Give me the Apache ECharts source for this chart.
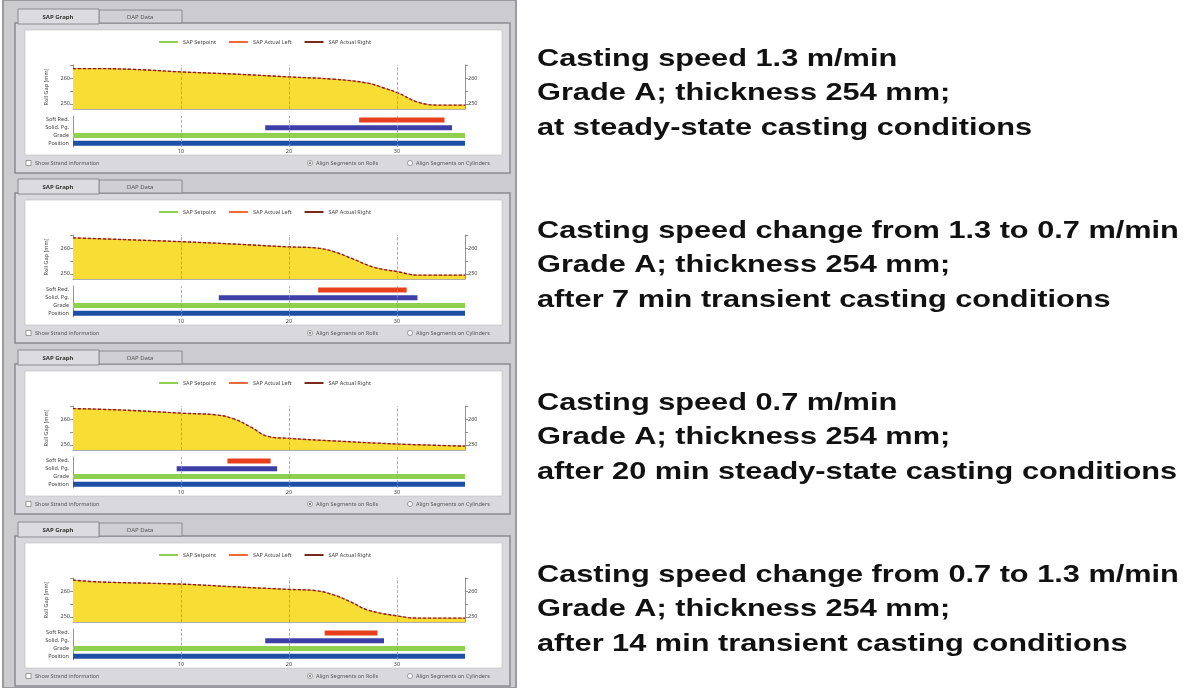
<!DOCTYPE html>
<html>
<head>
<meta charset="utf-8">
<script src="https://cdn.jsdelivr.net/npm/echarts@6/dist/echarts.min.js"></script>
<style>
  html, body { margin: 0; padding: 0; background: #ffffff; }
  #page { position: relative; width: 1187px; height: 688px; }
  #panels { position: absolute; left: 0; top: 0; width: 520px; height: 688px; filter: blur(0.6px); }
  #captions { position: absolute; left: 520px; top: 0; width: 667px; height: 688px; }
</style>
</head>
<body>
<div id="page">
  <div id="panels"></div>
  <div id="captions"></div>
</div>
<script>
// ---- data ----------------------------------------------------------
// roll gap profile along the strand: [distance, gap]
const profile1 = [[0,263.6],[2.3,263.6],[5.6,263.3],[10.2,262.3],[14.9,261.5],[20,260.4],[24.2,259.5],[27.3,258.0],[28.8,256.1],[30.1,254.2],[31.9,250.7],[33.8,249.5],[36.3,249.5]];
const profile2 = [[0,263.9],[4.2,263.3],[10.2,262.4],[14.9,261.5],[20,260.4],[22.5,260.0],[24.2,258.5],[26.0,255.6],[27.9,252.5],[30.1,250.8],[31.9,249.5],[36.3,249.5]];
const profile3 = [[0,264.0],[4.2,263.5],[10.2,262.2],[13.4,261.5],[14.9,260.0],[16.5,256.8],[18.0,253.3],[20,252.5],[24.2,251.5],[30.1,250.3],[36.3,249.5]];
const profile4 = [[0,264.2],[2.3,263.5],[10.2,262.6],[14.9,261.6],[20,260.6],[22.5,260.1],[24.2,258.4],[25.7,255.8],[27.3,252.6],[30.1,250.3],[31.9,249.5],[36.3,249.5]];

// segment ranges [start, end] for the strand bars
const softReduction = [[26.5,34.4],[22.7,30.9],[14.3,18.3],[23.3,28.2]];
const solidPg       = [[17.8,35.1],[13.5,31.9],[9.6,18.9],[17.8,28.8]];
const gradeRange    = [0, 36.3];
const positionRange = [0, 36.3];

const rowNames    = ['Position', 'Grade', 'Solid. Pg.', 'Soft Red.'];
const legendNames = ['SAP Setpoint', 'SAP Actual Left', 'SAP Actual Right'];
const xTicks      = [10, 20, 30];
const gapTicks    = [250, 255, 260, 265];
const gapLabels   = [250, 260];
const strandLength = 36.3;

const captions = [
  ['Casting speed 1.3 m/min', 'Grade A; thickness 254 mm;', 'at steady-state casting conditions'],
  ['Casting speed change from 1.3 to 0.7 m/min', 'Grade A; thickness 254 mm;', 'after 7 min transient casting conditions'],
  ['Casting speed 0.7 m/min', 'Grade A; thickness 254 mm;', 'after 20 min steady-state casting conditions'],
  ['Casting speed change from 0.7 to 1.3 m/min', 'Grade A; thickness 254 mm;', 'after 14 min transient casting conditions']
];

// ---- layout / styles -----------------------------------------------
const profiles = [profile1, profile2, profile3, profile4];
const panelTop = [0, 170, 341, 513];
const captionTop = [59, 231, 403, 575];
const C = {
  setpoint: '#8fd14f', left: '#f0693a', right: '#7a2a1c',
  fill: '#f8de34', soft: '#e8401e', solid: '#3d3fa6',
  grade: '#8fd14f', position: '#1d4fa5'
};
const tiny = { fontFamily: 'Noto Sans', fontSize: 5.5, color: '#444' };

const grids = [], xAxes = [], yAxes = [], series = [], legends = [], graphics = [];

// window background
graphics.push({ type: 'rect', z: -20, shape: { x: 3, y: 0, width: 513, height: 688 },
  style: { fill: '#cbcbd0', stroke: '#9a9aa0', lineWidth: 2 } });

function barRenderer(color) {
  return function (params, api) {
    const row = api.value(0);
    const a = api.coord([api.value(1), row]);
    const b = api.coord([api.value(2), row]);
    return { type: 'rect', shape: { x: a[0], y: a[1] - 2.5, width: b[0] - a[0], height: 5 },
      style: { fill: color } };
  };
}

profiles.forEach((prof, p) => {
  const oy = panelTop[p];
  const gA = 2 * p, gB = 2 * p + 1;

  grids.push({ left: 73, top: 65 + oy, width: 392, height: 44 });
  grids.push({ left: 73, top: 116 + oy, width: 392, height: 31 });

  xAxes.push({ type: 'value', gridIndex: gA, min: 0, max: strandLength,
    axisLine: { show: true, lineStyle: { color: '#999', width: 0.8 } },
    axisTick: { show: false }, axisLabel: { show: false }, splitLine: { show: false } });
  xAxes.push({ type: 'value', gridIndex: gB, min: 0, max: strandLength,
    axisLine: { show: false }, axisTick: { show: false }, splitLine: { show: false },
    axisLabel: Object.assign({ customValues: xTicks, margin: 1 }, tiny) });

  const gapAxis = (pos) => ({
    type: 'value', gridIndex: gA, position: pos, min: 248, max: 265,
    axisLine: { show: true, lineStyle: { color: '#777', width: 0.8 } },
    axisTick: { show: true, length: 3, customValues: gapTicks, lineStyle: { color: '#777', width: 0.8 } },
    axisLabel: Object.assign({ customValues: gapLabels, margin: 3 }, tiny),
    splitLine: { show: false }
  });
  const leftAxis = gapAxis('left');
  leftAxis.name = 'Roll Gap [mm]';
  leftAxis.nameLocation = 'middle';
  leftAxis.nameGap = 13;
  leftAxis.nameTextStyle = tiny;
  yAxes.push(leftAxis, gapAxis('right'));
  yAxes.push({ type: 'category', gridIndex: gB, data: rowNames,
    axisLine: { show: true, lineStyle: { color: '#777', width: 0.8 } },
    axisTick: { show: false }, splitLine: { show: false },
    axisLabel: Object.assign({ margin: 4, interval: 0 }, tiny) });

  const xA = 2 * p, xB = 2 * p + 1, yL = 3 * p, yC = 3 * p + 2;
  const dashes = { silent: true, symbol: 'none', label: { show: false },
    lineStyle: { color: '#9a9a9a', type: 'dashed', width: 0.8 },
    data: xTicks.map(v => ({ xAxis: v })) };

  series.push({ name: legendNames[0], type: 'line', xAxisIndex: xA, yAxisIndex: yL,
    data: prof, smooth: 0.4, symbol: 'none', z: 2,
    lineStyle: { width: 0 }, itemStyle: { color: C.setpoint },
    areaStyle: { color: C.fill, opacity: 1, origin: 'start' }, markLine: dashes });
  series.push({ name: legendNames[1], type: 'line', xAxisIndex: xA, yAxisIndex: yL,
    data: prof, smooth: 0.4, symbol: 'none', z: 3,
    lineStyle: { width: 0.8, color: C.left }, itemStyle: { color: C.left } });
  series.push({ name: legendNames[2], type: 'line', xAxisIndex: xA, yAxisIndex: yL,
    data: prof, smooth: 0.4, symbol: 'none', z: 4,
    lineStyle: { width: 1.4, color: C.right, type: [3, 2] }, itemStyle: { color: C.right } });

  // dashed guide lines behind the strand bars
  series.push({ type: 'line', xAxisIndex: xB, yAxisIndex: yC, data: [], z: 1, markLine: dashes });

  const rows = [
    [0, positionRange, C.position], [1, gradeRange, C.grade],
    [2, solidPg[p], C.solid], [3, softReduction[p], C.soft]
  ];
  rows.forEach(([row, range, color]) => {
    series.push({ name: rowNames[row], type: 'custom', xAxisIndex: xB, yAxisIndex: yC, z: 3,
      renderItem: barRenderer(color), encode: { x: [1, 2], y: 0 },
      data: [[row, range[0], range[1]]] });
  });

  legends.push({ top: 34 + oy, left: 154, itemWidth: 19, itemHeight: 2, itemGap: 13, icon: 'rect',
    textStyle: tiny, selectedMode: false,
    data: [
      { name: legendNames[0], itemStyle: { color: C.setpoint } },
      { name: legendNames[1], itemStyle: { color: C.left } },
      { name: legendNames[2], itemStyle: { color: C.right } }
    ] });

  // window chrome of each panel
  graphics.push(
    { type: 'rect', z: -10, shape: { x: 15, y: 23 + oy, width: 495, height: 150 },
      style: { fill: '#d9d9dd', stroke: '#8a8a90', lineWidth: 1.5 } },
    { type: 'rect', z: -9, shape: { x: 25, y: 30 + oy, width: 477, height: 125 },
      style: { fill: '#ffffff', stroke: '#b0b0b5', lineWidth: 0.5 } },
    { type: 'rect', z: -8, shape: { x: 99, y: 10 + oy, width: 83, height: 13 },
      style: { fill: '#d0d0d4', stroke: '#8a8a90', lineWidth: 1 } },
    { type: 'rect', z: -8, shape: { x: 18, y: 9 + oy, width: 81, height: 15 },
      style: { fill: '#dcdce0', stroke: '#8a8a90', lineWidth: 1 } },
    { type: 'text', z: 5, x: 58, y: 17 + oy,
      style: { text: 'SAP Graph', font: 'bold 6px "Noto Sans"', fill: '#333', textAlign: 'center', textVerticalAlign: 'middle' } },
    { type: 'text', z: 5, x: 140, y: 17 + oy,
      style: { text: 'OAP Data', font: '6px "Noto Sans"', fill: '#555', textAlign: 'center', textVerticalAlign: 'middle' } },
    { type: 'rect', z: 5, shape: { x: 26, y: 160.5 + oy, width: 5, height: 5 },
      style: { fill: '#fff', stroke: '#777', lineWidth: 0.7 } },
    { type: 'text', z: 5, x: 35, y: 163 + oy,
      style: { text: 'Show Strand information', font: '5.5px "Noto Sans"', fill: '#555', textVerticalAlign: 'middle' } },
    { type: 'circle', z: 5, shape: { cx: 310, cy: 163 + oy, r: 2.5 },
      style: { fill: '#fff', stroke: '#777', lineWidth: 0.7 } },
    { type: 'circle', z: 6, shape: { cx: 310, cy: 163 + oy, r: 1 }, style: { fill: '#555' } },
    { type: 'text', z: 5, x: 316, y: 163 + oy,
      style: { text: 'Align Segments on Rolls', font: '5.5px "Noto Sans"', fill: '#555', textVerticalAlign: 'middle' } },
    { type: 'circle', z: 5, shape: { cx: 410, cy: 163 + oy, r: 2.5 },
      style: { fill: '#fff', stroke: '#777', lineWidth: 0.7 } },
    { type: 'text', z: 5, x: 416, y: 163 + oy,
      style: { text: 'Align Segments on Cylinders', font: '5.5px "Noto Sans"', fill: '#555', textVerticalAlign: 'middle' } }
  );
});

const panelChart = echarts.init(document.getElementById('panels'), null, { renderer: 'canvas' });
panelChart.setOption({
  animation: false,
  backgroundColor: '#ffffff',
  grid: grids, xAxis: xAxes, yAxis: yAxes,
  legend: legends, series: series, graphic: graphics
});

// captions beside the panels
const captionGraphics = [];
captions.forEach((lines, p) => {
  lines.forEach((line, i) => {
    captionGraphics.push({ type: 'text', x: 17, y: captionTop[p] + i * 34.5, scaleX: 1.28,
      style: { text: line, font: 'bold 24px "Liberation Sans"', fill: '#111',
        textAlign: 'left', textVerticalAlign: 'middle' } });
  });
});
const captionChart = echarts.init(document.getElementById('captions'), null, { renderer: 'canvas' });
captionChart.setOption({ animation: false, backgroundColor: '#ffffff', graphic: captionGraphics });
</script>
</body>
</html>
